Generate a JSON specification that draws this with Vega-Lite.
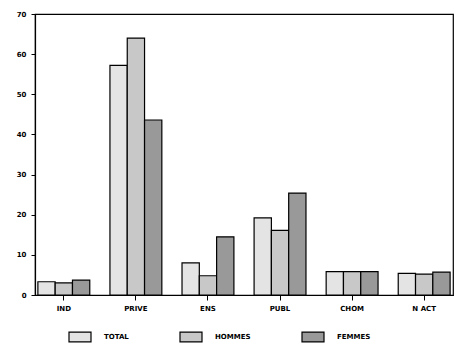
{
  "$schema": "https://vega.github.io/schema/vega-lite/v6.json",
  "width": 418,
  "height": 281,
  "autosize": {"type": "none"},
  "padding": {"left": 35, "top": 14, "right": 20, "bottom": 58},
  "background": "white",
  "config": {
    "view": {"stroke": "black", "strokeWidth": 1.2},
    "font": "DejaVu Sans",
    "axis": {"labelFont": "DejaVu Sans", "labelFontWeight": "bold", "labelFontSize": 7, "labelColor": "black", "domainColor": "black", "tickColor": "black", "grid": false, "title": null},
    "legend": {"labelFont": "DejaVu Sans", "labelFontWeight": "bold", "labelFontSize": 7, "labelColor": "black"}
  },
  "data": {
    "values": [
      {"cat": "IND", "serie": "TOTAL", "v": 3.3},
      {"cat": "IND", "serie": "HOMMES", "v": 3.0},
      {"cat": "IND", "serie": "FEMMES", "v": 3.7},
      {"cat": "PRIVE", "serie": "TOTAL", "v": 57.2},
      {"cat": "PRIVE", "serie": "HOMMES", "v": 64.0},
      {"cat": "PRIVE", "serie": "FEMMES", "v": 43.6},
      {"cat": "ENS", "serie": "TOTAL", "v": 8.0},
      {"cat": "ENS", "serie": "HOMMES", "v": 4.8},
      {"cat": "ENS", "serie": "FEMMES", "v": 14.5},
      {"cat": "PUBL", "serie": "TOTAL", "v": 19.2},
      {"cat": "PUBL", "serie": "HOMMES", "v": 16.1},
      {"cat": "PUBL", "serie": "FEMMES", "v": 25.4},
      {"cat": "CHOM", "serie": "TOTAL", "v": 5.8},
      {"cat": "CHOM", "serie": "HOMMES", "v": 5.8},
      {"cat": "CHOM", "serie": "FEMMES", "v": 5.8},
      {"cat": "N ACT", "serie": "TOTAL", "v": 5.4},
      {"cat": "N ACT", "serie": "HOMMES", "v": 5.2},
      {"cat": "N ACT", "serie": "FEMMES", "v": 5.7}
    ]
  },
  "mark": {"type": "bar", "stroke": "black", "strokeWidth": 1.2},
  "encoding": {
    "x": {
      "field": "cat", "type": "nominal",
      "sort": ["IND", "PRIVE", "ENS", "PUBL", "CHOM", "N ACT"],
      "scale": {"paddingInner": 0.28, "paddingOuter": 0.04},
      "axis": {"labelAngle": 0, "tickSize": 5, "labelPadding": 4, "domainWidth": 1.2}
    },
    "xOffset": {
      "field": "serie", "type": "nominal",
      "sort": ["TOTAL", "HOMMES", "FEMMES"],
      "scale": {"paddingInner": 0, "paddingOuter": 0}
    },
    "y": {
      "field": "v", "type": "quantitative",
      "scale": {"domain": [0, 70], "nice": false},
      "axis": {"values": [0, 10, 20, 30, 40, 50, 60, 70], "tickSize": 4, "labelPadding": 5, "domainWidth": 1.2}
    },
    "fill": {
      "field": "serie", "type": "nominal",
      "sort": ["TOTAL", "HOMMES", "FEMMES"],
      "scale": {"domain": ["TOTAL", "HOMMES", "FEMMES"], "range": ["#e4e4e4", "#c8c8c8", "#999999"]},
      "legend": {
        "title": null,
        "orient": "none",
        "direction": "horizontal",
        "columns": 3,
        "gridAlign": "none",
        "legendX": 33,
        "legendY": 311,
        "symbolType": "M-1,-0.45L1,-0.45L1,0.45L-1,0.45Z",
        "symbolSize": 484,
        "symbolStrokeColor": "black",
        "symbolStrokeWidth": 1.2,
        "labelOffset": 12,
        "columnPadding": 48
      }
    }
  }
}
